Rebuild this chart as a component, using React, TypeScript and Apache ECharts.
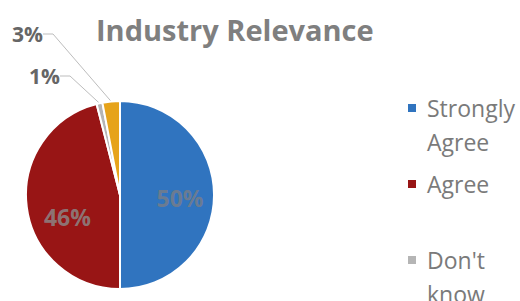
import React, { useEffect, useRef } from "react";
import * as echarts from "echarts";

const categories = ["Strongly Agree", "Agree", "Don't know", "Disagree"];
const values = [50, 46, 1, 3];
const colors = ["#3074bf", "#981515", "#b5b5b5", "#e6a31a"];
const legendShown = ["Strongly\nAgree", "Agree", "Don't\nknow"];
const titleText = "Industry Relevance";

const FONT = "'Open Sans', sans-serif";

export default function App() {
  const ref = useRef<HTMLDivElement>(null);
  useEffect(() => {
    if (!ref.current) return;
    document.body.style.margin = "0";
    const chart = echarts.init(ref.current, null, { renderer: "svg" });
    const labelCfg: any[] = [
      { position: "inside", color: "rgba(115,125,140,0.9)", fontWeight: "bold", fontSize: 23 },
      { position: "inside", color: "rgba(140,128,128,0.9)", fontWeight: "bold", fontSize: 23 },
      { position: "outside", color: "#666666", fontWeight: "bold", fontSize: 21 },
      { position: "outside", color: "#666666", fontWeight: "bold", fontSize: 21 },
    ];
    const labelMoves: any[] = [
      { dx: 10, dy: 3 },
      { dx: -3, dy: 16 },
      { x: 60, y: 76, align: "right", verticalAlign: "middle" },
      { x: 43, y: 34, align: "right", verticalAlign: "middle" },
    ];
    const legendGraphics: any[] = [];
    legendShown.forEach((txt, i) => {
      const y = 108 + i * 76;
      legendGraphics.push({
        type: "rect",
        left: 408,
        top: y - 4,
        shape: { width: 8, height: 8 },
        style: { fill: colors[i] },
        silent: true,
      });
      legendGraphics.push({
        type: "text",
        left: 427,
        top: y - 17,
        style: {
          text: txt,
          fill: "#7a7a7a",
          font: `23px ${FONT}`,
          lineHeight: 34,
        },
        silent: true,
      });
    });
    chart.setOption({
      animation: false,
      title: {
        text: titleText,
        left: 91,
        top: 10,
        textStyle: { color: "#7f7f7f", fontSize: 29, fontWeight: "bold", fontFamily: FONT },
      },
      graphic: legendGraphics,
      series: [
        {
          type: "pie",
          center: [120, 195],
          radius: 94,
          startAngle: 90,
          clockwise: true,
          avoidLabelOverlap: false,
          itemStyle: { borderColor: "#ffffff", borderWidth: 2 },
          labelLine: { lineStyle: { color: "#bdbdbd", width: 1 }, smooth: false, length: 10, length2: 10 },
          label: { formatter: "{c}%", fontFamily: FONT },
          labelLayout: (params: any) => labelMoves[params.dataIndex],
          data: categories.map((name, i) => ({
            name,
            value: values[i],
            itemStyle: { color: colors[i] },
            label: labelCfg[i],
            labelLine: { show: labelCfg[i].position === "outside" },
          })),
        },
      ],
    });
    return () => chart.dispose();
  }, []);
  return <div ref={ref} style={{ width: 520, height: 301 }} />;
}
